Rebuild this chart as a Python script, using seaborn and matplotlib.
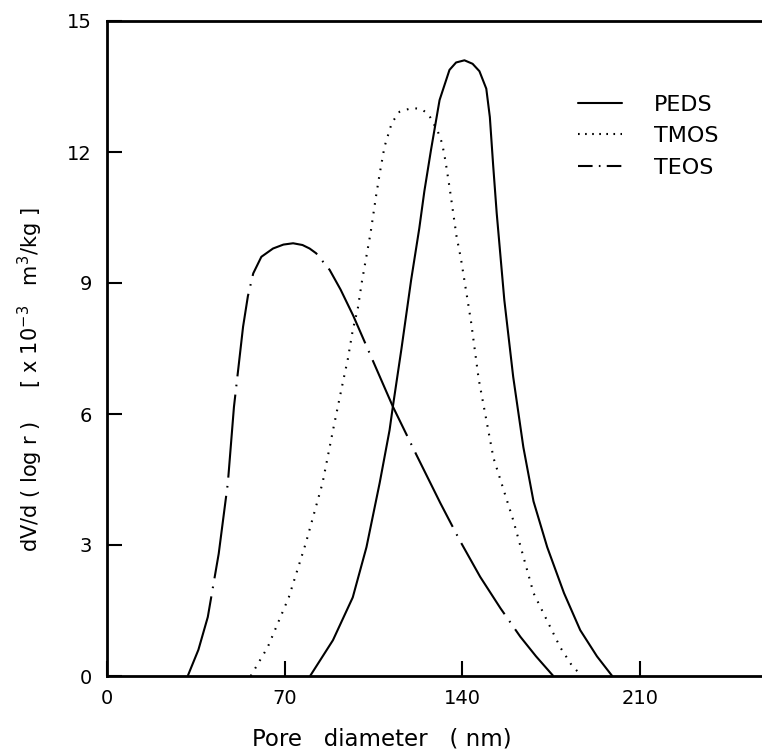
import numpy as np
import pandas as pd
import matplotlib
matplotlib.use("Agg")
import matplotlib.pyplot as plt
from matplotlib.lines import Line2D
import seaborn as sns

# pore diameter (nm) and dV/d(log r) values
PEDS_X = [80, 89, 96.8, 102.2, 107.4, 111.3, 112.6, 116, 119.8, 123, 125, 127.6, 131, 134.9,
          137.5, 140.8, 144, 146.7, 149.4, 150.8, 152.1, 153.5, 156.5, 160, 164, 168, 173.4,
          180, 186.4, 193, 199]
PEDS_Y = [0, 0.82, 1.8, 2.95, 4.42, 5.63, 6.17, 7.5, 9.07, 10.25, 11.1, 12.04, 13.19, 13.88,
          14.05, 14.1, 14.02, 13.85, 13.45, 12.8, 11.7, 10.6, 8.61, 6.85, 5.24, 4.0, 2.95,
          1.9, 1.05, 0.45, 0]

TMOS_X = [56.6, 63.3, 71.6, 78.3, 84.9, 89.2, 92.6, 94.9, 96.8, 98.8, 100.4, 103.8, 106, 107.4,
          109.3, 112.2, 115.2, 120.2, 124, 126.8, 130.3, 132, 133.3, 134.9, 137.7, 139.4,
          141.8, 143.4, 145.4, 146.4, 152.2, 160, 168, 178.5, 183, 187]
TMOS_Y = [0, 0.66, 1.8, 3.04, 4.42, 5.68, 6.64, 7.27, 7.92, 8.42, 9.03, 10.14, 11.0, 11.5,
          12.12, 12.67, 12.92, 13.01, 12.98, 12.85, 12.47, 12.2, 11.8, 11.2, 10.06, 9.56,
          8.69, 8.11, 7.24, 6.8, 5.0, 3.57, 1.9, 0.66, 0.25, 0]

TEOS_X = [31.8, 36, 39.7, 44, 47.6, 50, 53.6, 55.5, 57.6, 60.8, 65.4, 69.5, 73.3, 77, 79.8,
          82.4, 87.7, 92, 97, 106, 112.6, 122, 131.3, 139, 147, 155, 162.8, 169, 175.8]
TEOS_Y = [0, 0.6, 1.35, 2.8, 4.42, 6.16, 8.0, 8.7, 9.22, 9.6, 9.79, 9.88, 9.91, 9.87, 9.79,
          9.68, 9.3, 8.85, 8.25, 7.05, 6.17, 5.05, 3.96, 3.1, 2.27, 1.55, 0.9, 0.45, 0]

SERIES = ["PEDS", "TMOS", "TEOS"]
X_TICKS = [0, 70, 140, 210]
Y_TICKS = [0, 3, 6, 9, 12, 15]

sns.set_style("ticks")
plt.rcParams["font.family"] = ["DejaVu Sans"]
plt.rcParams.update({"text.color": "black", "axes.labelcolor": "black",
                     "xtick.color": "black", "ytick.color": "black"})

df = pd.concat([
    pd.DataFrame({"d": PEDS_X, "v": PEDS_Y, "s": "PEDS"}),
    pd.DataFrame({"d": TMOS_X, "v": TMOS_Y, "s": "TMOS"}),
    pd.DataFrame({"d": TEOS_X, "v": TEOS_Y, "s": "TEOS"}),
])

STYLES = {
    "PEDS": "-",
    "TMOS": (0, (0.8, 3.4)),
    "TEOS": (0, (40, 4, 0.8, 4)),
}
LEG_STYLES = {
    "PEDS": "-",
    "TMOS": (0, (0.8, 2.6)),
    "TEOS": (0, (7, 3, 0.8, 3)),
}

fig = plt.figure(figsize=(7.62, 7.53), dpi=100)
ax = fig.add_axes([107 / 762, 77 / 753, 655 / 762, 655 / 753])

for s in SERIES:
    sns.lineplot(data=df[df["s"] == s], x="d", y="v", ax=ax, color="black",
                 lw=1.5, linestyle=STYLES[s], sort=False, legend=False)

ax.set_xlim(0, 258)
ax.set_ylim(0, 15)
ax.set_xticks(X_TICKS)
ax.set_yticks(Y_TICKS)
ax.tick_params(direction="in", length=11, width=1.5, labelsize=14, pad=9,
               colors="black")
ax.tick_params(axis="y", pad=11)

for side in ["top", "left", "bottom"]:
    ax.spines[side].set_linewidth(2)
    ax.spines[side].set_color("black")
ax.spines["right"].set_visible(False)

ax.set_xlabel("Pore   diameter   ( nm)", fontsize=16.5, color="black")
ax.set_ylabel(r"dV/d ( log r )     [ x 10$^{-3}$   m$^3$/kg ]", fontsize=15, color="black")
ax.xaxis.set_label_coords(0.42, -0.079)
ax.yaxis.set_label_coords(-0.095, 0.452)

handles = [Line2D([], [], color="black", lw=1.5, linestyle=LEG_STYLES[s]) for s in SERIES]
leg = ax.legend(handles, SERIES, loc="upper left", bbox_to_anchor=(0.689, 0.918),
                frameon=False, fontsize=16, handlelength=1.95, handletextpad=1.45,
                labelspacing=0.52)
for t in leg.get_texts():
    t.set_color("black")

fig.savefig("out.png", dpi=100)
